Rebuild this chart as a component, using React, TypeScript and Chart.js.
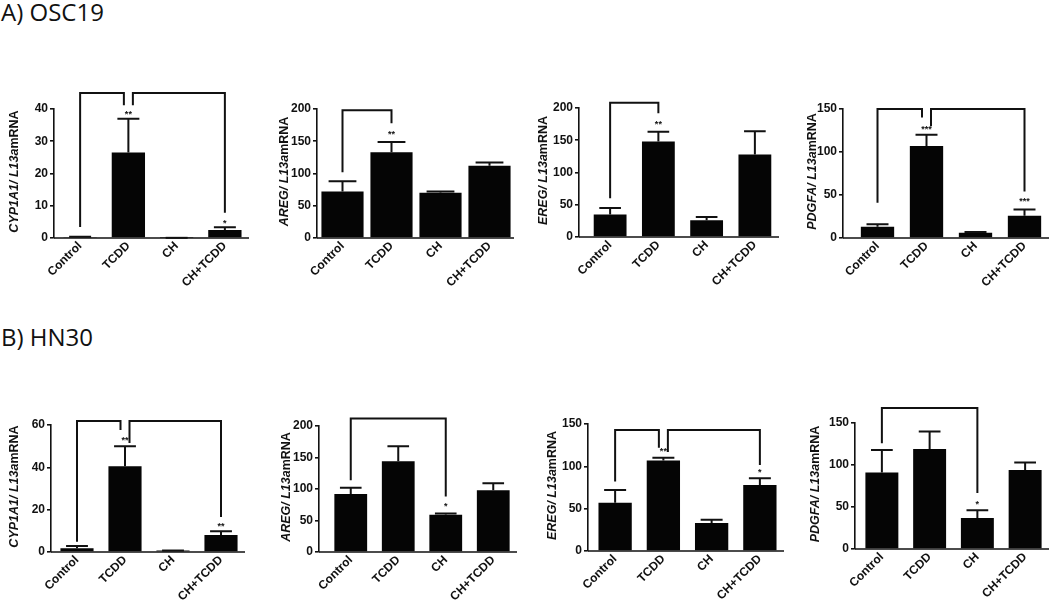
import React, { useEffect, useRef } from "react";
import { Chart, registerables } from "chart.js";

Chart.register(...registerables);

// ---------- data ----------
const categories = ["Control", "TCDD", "CH", "CH+TCDD"];

// A) OSC19
const osc19Cyp1a1Mean = [0.3, 26.5, 0.05, 2.5];
const osc19Cyp1a1Err = [0.1, 10.5, 0, 0.8];
const osc19Cyp1a1Ticks = [0, 10, 20, 30, 40];
const osc19Cyp1a1Brackets = [
  { from: 0, to: 1, top: 45, fromEnd: 3.4, toEnd: 41.2 },
  { from: 1, to: 3, top: 45, fromEnd: 41.2, toEnd: 7.8 },
];
const osc19Cyp1a1Stars = [
  { at: 1, value: 39, text: "**" },
  { at: 3, value: 5, text: "*" },
];

const osc19AregMean = [72, 133, 70, 112];
const osc19AregErr = [16, 16, 2, 5];
const osc19AregTicks = [0, 50, 100, 150, 200];
const osc19AregBrackets = [{ from: 0, to: 1, top: 198, fromEnd: 102, toEnd: 178 }];
const osc19AregStars = [{ at: 1, value: 163, text: "**" }];

const osc19EregMean = [35, 148, 26, 128];
const osc19EregErr = [10, 15, 5, 36];
const osc19EregTicks = [0, 50, 100, 150, 200];
const osc19EregBrackets = [{ from: 0, to: 1, top: 208, fromEnd: 60, toEnd: 192 }];
const osc19EregStars = [{ at: 1, value: 178, text: "**" }];

const osc19PdgfaMean = [13, 107, 6, 26];
const osc19PdgfaErr = [3, 13, 1, 7];
const osc19PdgfaTicks = [0, 50, 100, 150];
const osc19PdgfaBrackets = [
  { from: 0, to: 1, top: 150, fromEnd: 41, toEnd: 140 },
  { from: 1, to: 3, top: 150, fromEnd: 130, toEnd: 54 },
];
const osc19PdgfaStars = [
  { at: 1, value: 129, text: "***" },
  { at: 3, value: 45, text: "***" },
];

// B) HN30
const hn30Cyp1a1Mean = [1.8, 40.5, 0.7, 8];
const hn30Cyp1a1Err = [1, 9.5, 0, 1.8];
const hn30Cyp1a1Ticks = [0, 20, 40, 60];
const hn30Cyp1a1Brackets = [
  { from: 0, to: 1, top: 61.9, fromEnd: 4.9, toEnd: 57.6 },
  { from: 1, to: 3, top: 61.9, fromEnd: 51.5, toEnd: 16.5 },
];
const hn30Cyp1a1Stars = [
  { at: 1, value: 53.4, text: "**" },
  { at: 3, value: 13.2, text: "**" },
];

const hn30AregMean = [92, 144, 59, 98];
const hn30AregErr = [10, 24, 2, 11];
const hn30AregTicks = [0, 50, 100, 150, 200];
const hn30AregBrackets = [{ from: 0, to: 2, top: 212, fromEnd: 114, toEnd: 88 }];
const hn30AregStars = [{ at: 2, value: 75, text: "*" }];

const hn30EregMean = [57, 107, 33, 78];
const hn30EregErr = [15, 3, 4, 8];
const hn30EregTicks = [0, 50, 100, 150];
const hn30EregBrackets = [
  { from: 0, to: 1, top: 143, fromEnd: 82, toEnd: 122 },
  { from: 1, to: 3, top: 143, fromEnd: 117, toEnd: 101.5 },
];
const hn30EregStars = [
  { at: 1, value: 119.5, text: "**" },
  { at: 3, value: 95, text: "*" },
];

const hn30PdgfaMean = [91, 119, 37, 94];
const hn30PdgfaErr = [27, 21, 9, 9];
const hn30PdgfaTicks = [0, 50, 100, 150];
const hn30PdgfaBrackets = [{ from: 0, to: 2, top: 168, fromEnd: 126, toEnd: 66.7 }];
const hn30PdgfaStars = [{ at: 2, value: 55, text: "*" }];

const panels = [
  { gene: "CYP1A1", mean: osc19Cyp1a1Mean, err: osc19Cyp1a1Err, ticks: osc19Cyp1a1Ticks, brackets: osc19Cyp1a1Brackets, stars: osc19Cyp1a1Stars },
  { gene: "AREG", mean: osc19AregMean, err: osc19AregErr, ticks: osc19AregTicks, brackets: osc19AregBrackets, stars: osc19AregStars },
  { gene: "EREG", mean: osc19EregMean, err: osc19EregErr, ticks: osc19EregTicks, brackets: osc19EregBrackets, stars: osc19EregStars },
  { gene: "PDGFA", mean: osc19PdgfaMean, err: osc19PdgfaErr, ticks: osc19PdgfaTicks, brackets: osc19PdgfaBrackets, stars: osc19PdgfaStars },
  { gene: "CYP1A1", mean: hn30Cyp1a1Mean, err: hn30Cyp1a1Err, ticks: hn30Cyp1a1Ticks, brackets: hn30Cyp1a1Brackets, stars: hn30Cyp1a1Stars },
  { gene: "AREG", mean: hn30AregMean, err: hn30AregErr, ticks: hn30AregTicks, brackets: hn30AregBrackets, stars: hn30AregStars },
  { gene: "EREG", mean: hn30EregMean, err: hn30EregErr, ticks: hn30EregTicks, brackets: hn30EregBrackets, stars: hn30EregStars },
  { gene: "PDGFA", mean: hn30PdgfaMean, err: hn30PdgfaErr, ticks: hn30PdgfaTicks, brackets: hn30PdgfaBrackets, stars: hn30PdgfaStars },
];

// ---------- layout / style ----------
const layouts = [
  { row: 0, axisX: 54, right: 249, top: 109, zero: 238, gap: 2, titleX: 15, bar: 0.69 },
  { row: 0, axisX: 317, right: 514, top: 109, zero: 238, gap: 1, titleX: 285, bar: 0.86 },
  { row: 0, axisX: 579, right: 779, top: 108, zero: 237, gap: 7, titleX: 544, bar: 0.68 },
  { row: 0, axisX: 843, right: 1049, top: 109, zero: 238, gap: 10, titleX: 813, bar: 0.68 },
  { row: 1, axisX: 51, right: 245, top: 425, zero: 552, gap: 2, titleX: 15, bar: 0.69 },
  { row: 1, axisX: 319, right: 517, top: 426, zero: 552, gap: 8, titleX: 287, bar: 0.69 },
  { row: 1, axisX: 588, right: 784, top: 424, zero: 551, gap: 3, titleX: 553, bar: 0.69 },
  { row: 1, axisX: 855, right: 1049, top: 423, zero: 549, gap: 3, titleX: 816, bar: 0.69 },
];

const INK = "#111111";
const FONT = "'Liberation Sans', Arial, sans-serif";

Chart.defaults.font.family = FONT;
Chart.defaults.font.weight = "bold" as any;
Chart.defaults.font.size = 12;
Chart.defaults.color = INK;

function Panel({ cfg, lay }: { cfg: any; lay: any }) {
  const ref = useRef<HTMLCanvasElement>(null);
  const left = Math.max(0, lay.axisX - 56);
  const rightEdge = Math.min(1050, lay.right + 2);
  const width = rightEdge - left;
  const top = lay.row === 0 ? 60 : 375;
  const bottom = lay.row === 0 ? 302 : 602;
  const height = bottom - top;

  useEffect(() => {
    const canvas = ref.current!;
    const yMax = cfg.ticks[cfg.ticks.length - 1];
    const step = cfg.ticks[1] - cfg.ticks[0];

    const annot = {
      id: "annot",
      afterLayout(chart: any) {
        const xs = chart.scales.x;
        xs.left = chart.chartArea.left + lay.gap;
        xs.width = xs.right - xs.left;
        xs.configure();
      },
      afterDatasetsDraw(chart: any) {
        const ctx = chart.ctx;
        const xs = chart.scales.x;
        const ys = chart.scales.y;
        const area = chart.chartArea;
        ctx.save();
        ctx.strokeStyle = INK;
        ctx.fillStyle = INK;
        ctx.lineCap = "butt";
        // x axis line
        ctx.lineWidth = 1.6;
        ctx.beginPath();
        ctx.moveTo(area.left, area.bottom);
        ctx.lineTo(area.right, area.bottom);
        ctx.stroke();
        // error bars (upper only)
        const meta = chart.getDatasetMeta(0);
        meta.data.forEach((bar: any, i: number) => {
          const w = bar.width;
          const x = bar.x;
          const y0 = ys.getPixelForValue(cfg.mean[i]);
          const y1 = ys.getPixelForValue(cfg.mean[i] + cfg.err[i]);
          ctx.lineWidth = 2;
          ctx.beginPath();
          ctx.moveTo(x, y0);
          ctx.lineTo(x, y1);
          ctx.moveTo(x - w * 0.33, y1);
          ctx.lineTo(x + w * 0.33, y1);
          ctx.stroke();
        });
        // significance brackets
        const use = new Map<number, number>();
        cfg.brackets.forEach((b: any) => {
          use.set(b.from, (use.get(b.from) || 0) + 1);
          use.set(b.to, (use.get(b.to) || 0) + 1);
        });
        ctx.lineWidth = 2;
        cfg.brackets.forEach((b: any) => {
          const xa = xs.getPixelForValue(b.from) + ((use.get(b.from) || 0) > 1 ? 4.5 : 0);
          const xb = xs.getPixelForValue(b.to) - ((use.get(b.to) || 0) > 1 ? 4.5 : 0);
          const yt = ys.getPixelForValue(b.top);
          ctx.beginPath();
          ctx.moveTo(xa, ys.getPixelForValue(b.fromEnd));
          ctx.lineTo(xa, yt);
          ctx.lineTo(xb, yt);
          ctx.lineTo(xb, ys.getPixelForValue(b.toEnd));
          ctx.stroke();
        });
        // stars
        ctx.font = `bold 9px ${FONT}`;
        ctx.textAlign = "center";
        ctx.textBaseline = "middle";
        cfg.stars.forEach((s: any) => {
          ctx.fillText(s.text, xs.getPixelForValue(s.at), ys.getPixelForValue(s.value) + 2);
        });
        // y title with italic gene name
        const tx = lay.titleX - left;
        const ty = (lay.top + lay.zero) / 2 - 2 - top;
        ctx.translate(tx, ty);
        ctx.rotate(-Math.PI / 2);
        const parts = [
          { t: cfg.gene + "/ L13a", f: `italic bold 12.5px ${FONT}` },
          { t: "mRNA", f: `bold 12.5px ${FONT}` },
        ];
        let total = 0;
        parts.forEach((p) => {
          ctx.font = p.f;
          total += ctx.measureText(p.t).width;
        });
        let cx = -total / 2;
        ctx.textAlign = "left";
        parts.forEach((p) => {
          ctx.font = p.f;
          ctx.fillText(p.t, cx, 0);
          cx += ctx.measureText(p.t).width;
        });
        ctx.restore();
      },
    };

    const xFont = { family: FONT, size: 12, weight: "bold" as any };
    const yFont = { family: FONT, size: 12, weight: "bold" as any };

    const chart = new Chart(canvas, {
      type: "bar",
      data: {
        labels: categories,
        datasets: [
          {
            data: cfg.mean,
            backgroundColor: "#050505",
            borderWidth: 0,
            barPercentage: lay.bar,
            categoryPercentage: 1,
          },
        ],
      },
      options: {
        responsive: false,
        animation: false,
        devicePixelRatio: 1,
        layout: {
          padding: { left: 0, right: width - (lay.right - left), top: lay.top - top, bottom: 0 },
        },
        plugins: { legend: { display: false }, tooltip: { enabled: false } },
        scales: {
          x: {
            offset: true,
            grid: { display: false, drawTicks: false },
            border: { display: false },
            ticks: {
              autoSkip: false,
              maxRotation: 45,
              minRotation: 45,
              padding: 1,
              color: INK,
              font: xFont,
            },
            afterFit: (s: any) => {
              s.height = bottom - lay.zero;
            },
          },
          y: {
            min: 0,
            max: yMax,
            grid: { drawOnChartArea: false, drawTicks: true, tickLength: 4, color: INK, lineWidth: 1.6 },
            border: { display: true, color: INK, width: 1.6 },
            ticks: {
              stepSize: step,
              padding: 2,
              color: INK,
              font: yFont,
            },
            afterFit: (s: any) => {
              s.width = lay.axisX - left;
            },
          },
        },
      } as any,
      plugins: [annot as any],
    });
    return () => chart.destroy();
  }, []);

  return (
    <canvas
      ref={ref}
      width={width}
      height={height}
      style={{ position: "absolute", left, top, width, height }}
    />
  );
}

export default function App() {
  return (
    <div style={{ position: "absolute", left: 0, top: 0, width: 1050, height: 602, background: "#fff", overflow: "hidden" }}>
      <div style={{ position: "absolute", left: 1, top: 0, font: "24px 'Open Sans', sans-serif", lineHeight: "24px", color: "#111", whiteSpace: "nowrap" }}>
        A) OSC19
      </div>
      <div style={{ position: "absolute", left: 1, top: 325, font: "24px 'Open Sans', sans-serif", lineHeight: "24px", color: "#111", whiteSpace: "nowrap" }}>
        B) HN30
      </div>
      {panels.map((cfg, i) => (
        <Panel key={i} cfg={cfg} lay={layouts[i]} />
      ))}
    </div>
  );
}
